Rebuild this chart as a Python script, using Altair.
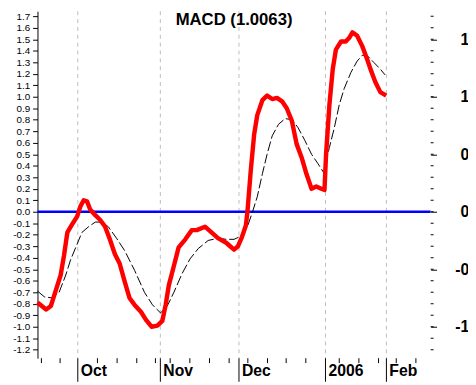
import altair as alt
import pandas as pd

# ---------------- data ----------------
title_text = "MACD (1.0063)"

# x = trading-day index since start of window
macd_day = [0, 2.2, 3.4, 4.7, 5.9, 6.75, 7.6, 8.8, 10.1, 10.9, 11.75, 12.6, 13.4, 14.7, 15.9,
            17.2, 18.4, 19.7, 20.9, 22.2, 23.4, 24.7, 26.3, 27.6, 29, 30.5, 31.75, 32.6, 33.4, 34.7,
            35.9, 37.6, 39.25, 40.5, 42.6, 44.25, 45.9, 48, 49, 50, 51, 52, 53, 53.4, 54.25,
            55.1, 55.9, 57.2, 58.4, 59.7, 60.9, 62.2, 63.4, 64.7, 65.9, 67.2, 68.4, 69.7, 70.9, 72.2,
            73, 73.4, 74.25, 75.1, 75.9, 77.2, 78.4, 79.25, 80.1, 81.3, 82.6, 83.8, 84.7, 85.9, 87.2, 88.7]
macd_val = [-0.79, -0.85, -0.82, -0.68, -0.55, -0.38, -0.18, -0.11, -0.04, 0.045, 0.10, 0.09, 0.02, -0.03, -0.07,
            -0.13, -0.24, -0.37, -0.45, -0.61, -0.75, -0.81, -0.87, -0.94, -1.00, -0.99, -0.95, -0.81, -0.64, -0.47,
            -0.31, -0.24, -0.16, -0.16, -0.13, -0.18, -0.23, -0.27, -0.30, -0.33, -0.30, -0.22, -0.12, 0.0, 0.36,
            0.67, 0.84, 0.97, 1.01, 0.98, 0.99, 0.96, 0.90, 0.79, 0.59, 0.47, 0.33, 0.20, 0.22, 0.20,
            0.19, 0.50, 0.93, 1.24, 1.41, 1.48, 1.48, 1.51, 1.56, 1.53, 1.44, 1.33, 1.24, 1.13, 1.04, 1.01]

signal_day = [0, 1.75, 3.8, 5.5, 7.2, 8.4, 10.1, 11.3, 13, 14.7, 16.3, 18, 20.1, 22.2, 24.7,
              27.2, 29.25, 31.3, 33, 34.7, 36.75, 38.8, 40.9, 43.4, 45.9, 48, 50, 51.25, 52.5, 53.5,
              54.7, 55.9, 57.2, 58.4, 59.7, 61.3, 63, 64.7, 66.3, 68, 69.7, 71.3, 72.8, 74.25, 75.5,
              76.75, 78, 79.7, 81.3, 82.6, 83.8, 85.5, 87.2, 88.4]
signal_val = [-0.69, -0.74, -0.75, -0.70, -0.55, -0.42, -0.28, -0.18, -0.13, -0.09, -0.09, -0.13, -0.23, -0.34, -0.51,
              -0.70, -0.81, -0.88, -0.82, -0.70, -0.54, -0.41, -0.32, -0.25, -0.23, -0.24, -0.24, -0.22, -0.18, -0.12,
              0.0, 0.13, 0.33, 0.50, 0.66, 0.76, 0.81, 0.80, 0.73, 0.62, 0.50, 0.42, 0.34, 0.56, 0.73,
              0.93, 1.07, 1.21, 1.31, 1.36, 1.36, 1.30, 1.24, 1.19]

month_pos = [10.25, 31.25, 51.25, 73.25, 88.75]
month_labels = ["Oct", "Nov", "Dec", "2006", "Feb"]
week_ticks = [1, 5.75, 15.25, 20.25, 25.25, 30, 33.75, 38.75, 43.75, 48.75,
              53.5, 58.5, 63.25, 68.25, 76.75, 81.75, 86.75, 91.25, 96.25]
y_ticks = [round(i * 0.1, 1) for i in range(-12, 18)]
y_major = [-1.0, -0.5, 0.0, 0.5, 1.0, 1.5]
zero_level = [0.0]

# ---------------- chart ----------------
FONT = "Liberation Sans"
W, H = 400, 353
x_scale = alt.Scale(domain=[0, 100], nice=False, zero=False)
y_scale = alt.Scale(domain=[-1.2735, 1.7436], nice=False, zero=False)

macd_df = pd.DataFrame({"day": macd_day, "v": macd_val})
sig_df = pd.DataFrame({"day": signal_day, "v": signal_val})
month_df = pd.DataFrame({"day": month_pos, "label": month_labels})
week_df = pd.DataFrame({"day": week_ticks})
ytick_df = pd.DataFrame({"v": y_ticks})
zero_df = pd.DataFrame({"v": zero_level})
title_df = pd.DataFrame({"t": [title_text]})

minus_fix = "replace(format(datum.value, '.1f'), '\u2212', '-')"

left_axis = alt.Axis(
    orient="left", values=y_ticks, tickSize=5, tickColor="black",
    domain=True, domainColor="black", grid=False, title=None,
    labelExpr=minus_fix, labelPadding=3, labelOverlap=False, labelBound=False, labelFlush=False,
    labelFont=FONT, labelFontSize=10, labelColor="black",
)

right_axis = alt.Axis(
    orient="right", values=y_major, tickSize=6, tickColor="black",
    domain=False, grid=False, title=None,
    labelExpr=minus_fix, labelAlign="right", labelPadding=46,
    labelOverlap=False, labelBound=False, labelFlush=False,
    labelFont=FONT, labelFontSize=16, labelFontWeight="bold", labelColor="black",
)

xs = alt.X("day:Q", scale=x_scale, axis=None)

grid = alt.Chart(month_df).mark_rule(color="#bdbdbd", strokeDash=[4, 4], strokeWidth=1).encode(x=xs)

month_tick = alt.Chart(month_df).mark_rule(color="black", strokeWidth=1).encode(
    x=xs, y=alt.value(H), y2=alt.value(H + 24)
)

month_text = alt.Chart(month_df).mark_text(
    font=FONT, fontSize=16, fontWeight="bold", color="black", align="left", baseline="top", dx=3
).encode(x=xs, y=alt.value(H + 5), text="label:N")

week = alt.Chart(week_df).mark_rule(color="black", strokeWidth=1).encode(
    x=xs, y=alt.value(H), y2=alt.value(H + 5),
)

minor_right = alt.Chart(ytick_df).mark_rule(color="black", strokeWidth=1).encode(
    y=alt.Y("v:Q", scale=y_scale, axis=None),
    x=alt.value(W), x2=alt.value(W + 3),
)

zero = alt.Chart(zero_df).mark_rule(color="#0000ff", strokeWidth=2.5).encode(
    y=alt.Y("v:Q", scale=y_scale, axis=right_axis)
)

signal = alt.Chart(sig_df).mark_line(color="black", strokeWidth=1, strokeDash=[10, 3]).encode(
    x=xs, y=alt.Y("v:Q", scale=y_scale, axis=None),
)

macd = alt.Chart(macd_df).mark_line(color="#ff0000", strokeWidth=4.5, strokeJoin="round").encode(
    x=xs, y=alt.Y("v:Q", scale=y_scale, axis=left_axis),
)

title = alt.Chart(title_df).mark_text(
    font=FONT, fontSize=17, fontWeight="bold", color="black", align="center", baseline="alphabetic"
).encode(text="t:N", x=alt.value(200), y=alt.value(14))

chart = alt.layer(
    grid, month_tick, month_text, week, minor_right, zero, signal, macd, title
).resolve_axis(y="independent").properties(
    width=W, height=H,
    autosize=alt.AutoSizeParams(type="none"),
    padding={"left": 30, "top": 0, "right": 38, "bottom": 24},
    background="white",
).configure_view(stroke=None)

chart.save("out.html", embed_options={"renderer": "svg", "actions": False})
